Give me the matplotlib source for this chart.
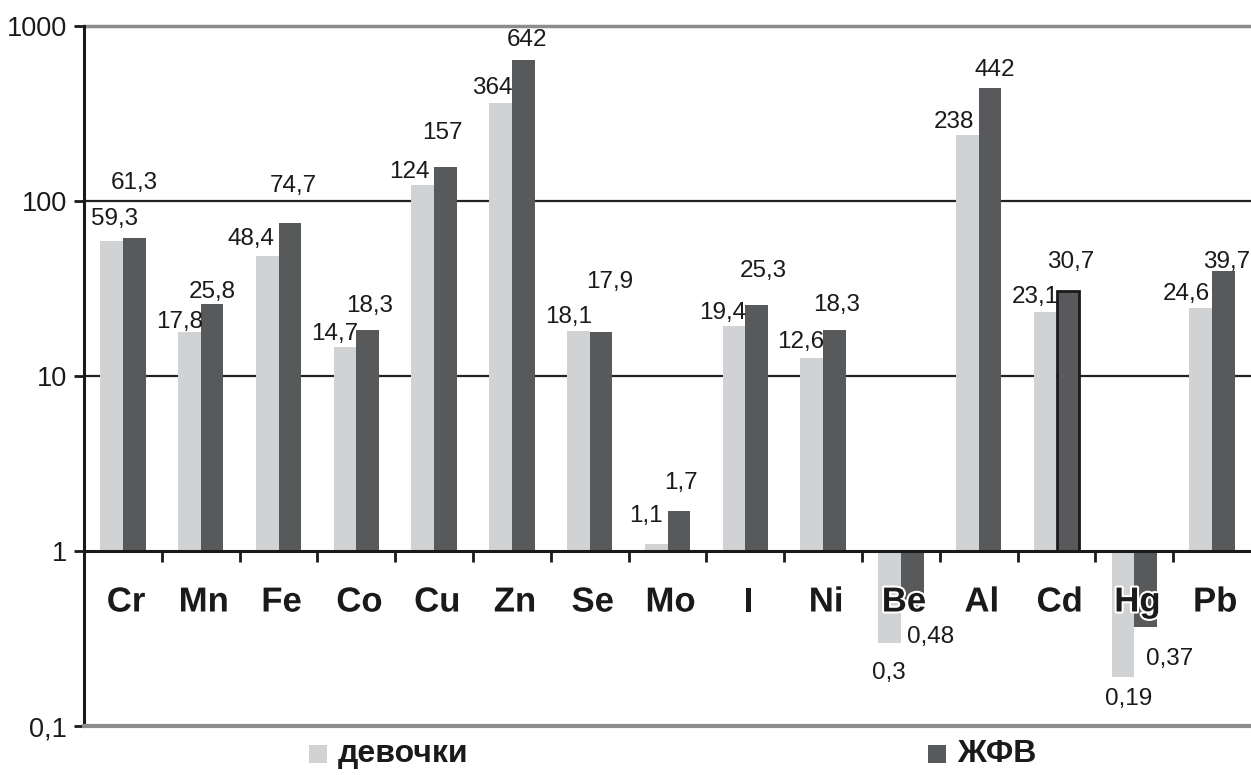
import numpy as np
import matplotlib
matplotlib.use("Agg")
import matplotlib.pyplot as plt
from matplotlib.patches import Rectangle
import matplotlib.patheffects as pe

plt.rcParams['font.family'] = ['Liberation Sans', 'DejaVu Sans']

# Element content (log scale, bars start from 1)
elements = ["Cr", "Mn", "Fe", "Co", "Cu", "Zn", "Se", "Mo", "I", "Ni",
            "Be", "Al", "Cd", "Hg", "Pb"]
girls = [59.3, 17.8, 48.4, 14.7, 124, 364, 18.1, 1.1, 19.4, 12.6,
         0.3, 238, 23.1, 0.19, 24.6]
zhfv = [61.3, 25.8, 74.7, 18.3, 157, 642, 17.9, 1.7, 25.3, 18.3,
        0.48, 442, 30.7, 0.37, 39.7]
series_names = ["девочки", "ЖФВ"]
ytick_values = [0.1, 1, 10, 100, 1000]
ytick_labels = ["0,1", "1", "10", "100", "1000"]

# Value-label nudges in pixels (dx, dy) from the bar end
shift_girls = [(3, 22), (-10, 10), (-16, 17), (-10, 13), (-13, 13), (-8, 15),
               (-10, 14), (-10, 28), (-11, 13), (-11, 16), (-1, -30), (-13, 13),
               (-10, 15), (6, -22), (-14, 14)]
shift_zhfv = [(0, 55), (0, 12), (3, 37), (2, 24), (-3, 34), (4, 20),
              (9, 50), (2, 28), (7, 34), (2, 25), (18, -30), (5, 18),
              (3, 29), (24, -32), (3, 9)]

LIGHT = "#d1d2d4"
DARK = "#58595b"

W, H = 1251, 775
fig = plt.figure(figsize=(W / 100, H / 100), dpi=100)
ax = fig.add_axes([84 / W, 1 - 726 / H, 1 - 84 / W, (726 - 26) / H])
ax.set_yscale("log")
ax.set_ylim(0.1, 1000)
ax.set_xlim(0, len(elements))

x = np.arange(len(elements)) + 0.5
bw = 0.292
base = 1.0
hg = np.array(girls) - base
hz = np.array(zhfv) - base
bars_g = ax.bar(x - bw / 2, hg, bw, bottom=base, color=LIGHT, zorder=3, linewidth=0)
bars_z = ax.bar(x + bw / 2, hz, bw, bottom=base, color=DARK, zorder=3, linewidth=0)
cd = elements.index("Cd")
bars_z[cd].set_edgecolor("#1a1a1a")
bars_z[cd].set_linewidth(2)

# horizontal rules
ax.axhline(10, color="#222222", lw=1.6, zorder=2)
ax.axhline(100, color="#222222", lw=1.6, zorder=2)
ax.axhline(1000, color="#8c8c8c", lw=2.5, zorder=2, clip_on=False)
ax.axhline(1, color="#1a1a1a", lw=2.2, zorder=4)

# category separators hanging below the base line
bounds = np.arange(1, len(elements))
ax.vlines(bounds, 10 ** (-11 / 175), 1, color="#1a1a1a", lw=2, zorder=4)

for s in ["top", "right"]:
    ax.spines[s].set_visible(False)
ax.spines["left"].set_color("#1a1a1a")
ax.spines["left"].set_linewidth(2.2)
ax.spines["bottom"].set_color("#8c8c8c")
ax.spines["bottom"].set_linewidth(3)

ax.set_xticks([])
ax.set_yticks(ytick_values)
ax.set_yticklabels(ytick_labels)
ax.yaxis.set_minor_locator(matplotlib.ticker.NullLocator())
ax.tick_params(axis="y", direction="out", length=7, width=2, color="#1a1a1a",
               labelsize=19.5, pad=5, labelcolor="#1a1a1a")

# element names under the base line
cat_y = 10 ** (-51 / 175)
for xi, name in zip(x, elements):
    ax.text(xi + 0.04, cat_y, name, ha="center", va="center", fontsize=25,
            fontweight="bold", color="#1a1a1a", zorder=6,
            path_effects=[pe.withStroke(linewidth=3, foreground="white")])


def fmt(v):
    return f"{v:g}".replace(".", ",")


def label_bars(xs, vals, shifts):
    for xi, v, (dx, dy) in zip(xs, vals, shifts):
        ax.annotate(fmt(v), (xi, v), xytext=(dx, dy), textcoords="offset pixels",
                    ha="center", va="center", fontsize=17.5, color="#1a1a1a",
                    zorder=7)


label_bars(x - bw / 2, girls, shift_girls)
label_bars(x + bw / 2, zhfv, shift_zhfv)

# legend along the bottom
for (x0, col), name in zip([(309, LIGHT), (928, DARK)], series_names):
    fig.add_artist(Rectangle((x0 / W, 1 - 763 / H), 18 / W, 18 / H,
                             transform=fig.transFigure, color=col, lw=0))
    fig.text((x0 + 29) / W, 1 - 754 / H, name, ha="left", va="center",
             fontsize=23, fontweight="bold", color="#1a1a1a")

fig.savefig("out.png", dpi=100)
